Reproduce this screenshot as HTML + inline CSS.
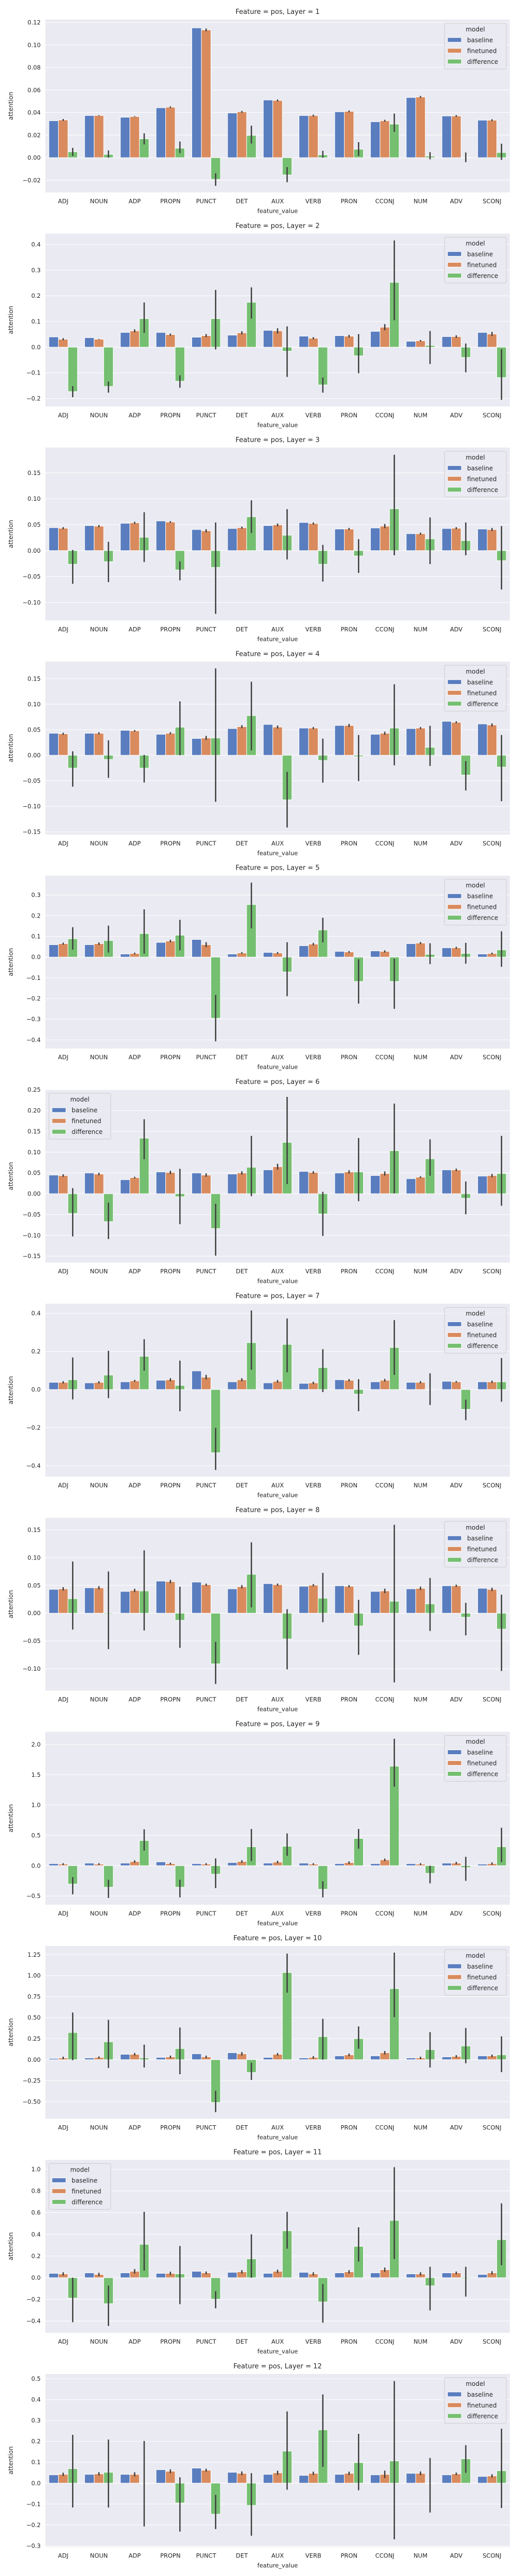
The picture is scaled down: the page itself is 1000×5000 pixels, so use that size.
<!DOCTYPE html>
<html><head><meta charset="utf-8"><title>Attention by POS per layer</title>
<style>
html,body{margin:0;padding:0;background:#fff;}
svg{display:block;font-family:"DejaVu Sans","Liberation Sans",sans-serif;}
</style></head>
<body>
<svg id="fig" xmlns="http://www.w3.org/2000/svg" width="1000" height="5000" viewBox="0 0 1000 5000"></svg>
<script>
const categories = ["ADJ","NOUN","ADP","PROPN","PUNCT","DET","AUX","VERB","PRON","CCONJ","NUM","ADV","SCONJ"];
const seriesNames = ["baseline","finetuned","difference"];
const layers = [1,2,3,4,5,6,7,8,9,10,11,12];

const baseline = [
 [0.0328,0.0374,0.0359,0.0443,0.1152,0.0397,0.0512,0.0374,0.0407,0.0319,0.0534,0.037,0.0333],
 [0.040,0.037,0.0575,0.0575,0.039,0.047,0.0656,0.043,0.045,0.0616,0.023,0.0413,0.0575],
 [0.0443,0.0483,0.0527,0.0573,0.0407,0.0427,0.0483,0.0543,0.0417,0.0437,0.0327,0.0427,0.0417],
 [0.0431,0.0431,0.0489,0.0411,0.0329,0.0523,0.0604,0.0533,0.0584,0.0411,0.0523,0.0665,0.0614],
 [0.060,0.060,0.015,0.071,0.0852,0.015,0.0226,0.055,0.0276,0.030,0.065,0.045,0.015],
 [0.0449,0.0499,0.0337,0.0524,0.0499,0.0474,0.0574,0.0536,0.0499,0.0437,0.0362,0.0574,0.0424],
 [0.0378,0.035,0.0405,0.0487,0.0978,0.0405,0.035,0.0323,0.0514,0.0405,0.0378,0.0432,0.0405],
 [0.0429,0.0457,0.0392,0.0578,0.056,0.0438,0.0532,0.0485,0.0494,0.0392,0.0438,0.0494,0.0448],
 [0.034,0.043,0.043,0.063,0.034,0.051,0.043,0.043,0.034,0.034,0.034,0.043,0.026],
 [0.0144,0.0206,0.064,0.0268,0.070,0.0825,0.0268,0.0206,0.0454,0.0454,0.0206,0.033,0.0454],
 [0.040,0.0447,0.0447,0.040,0.059,0.0495,0.040,0.0495,0.0447,0.0447,0.035,0.0447,0.030],
 [0.0397,0.0421,0.0421,0.0645,0.072,0.052,0.0421,0.0372,0.0421,0.0397,0.0471,0.0397,0.0322]
];
const finetuned = [
 [0.0335,0.0374,0.0365,0.0448,0.1134,0.0407,0.0508,0.0374,0.0411,0.0328,0.0539,0.037,0.0333],
 [0.031,0.031,0.0636,0.049,0.045,0.056,0.0636,0.035,0.043,0.0778,0.025,0.0413,0.0514],
 [0.0433,0.0473,0.0537,0.0553,0.0383,0.0443,0.0497,0.0523,0.0417,0.0473,0.0327,0.0433,0.0407],
 [0.0421,0.0431,0.0479,0.0431,0.0339,0.056,0.0553,0.0533,0.0584,0.0431,0.0533,0.0645,0.0594],
 [0.065,0.065,0.0175,0.0777,0.060,0.020,0.020,0.0627,0.025,0.0276,0.0677,0.045,0.0175],
 [0.0437,0.0474,0.0387,0.0511,0.0449,0.0499,0.0649,0.0511,0.0524,0.0486,0.0399,0.0574,0.0437],
 [0.0378,0.0378,0.046,0.0514,0.065,0.0514,0.0432,0.035,0.0487,0.0487,0.0378,0.0405,0.0405],
 [0.0438,0.0457,0.041,0.0569,0.0513,0.0476,0.0513,0.0504,0.0485,0.0401,0.0448,0.0494,0.0429],
 [0.026,0.026,0.069,0.034,0.026,0.069,0.060,0.026,0.051,0.097,0.026,0.043,0.034],
 [0.0206,0.0268,0.064,0.033,0.033,0.070,0.064,0.0268,0.0577,0.0825,0.0206,0.039,0.0454],
 [0.035,0.030,0.059,0.040,0.0447,0.0543,0.059,0.035,0.0543,0.0734,0.035,0.0447,0.0447],
 [0.0421,0.0446,0.0421,0.057,0.062,0.0471,0.0496,0.0471,0.0471,0.0421,0.0471,0.0446,0.0347]
];
const finetunedErr = [
 [0.0008,0.0003,0.0003,0.0007,0.0012,0.0008,0.0008,0.0008,0.0008,0.0008,0.0008,0.0008,0.0008],
 [0.004,0.001,0.006,0.004,0.006,0.006,0.010,0.004,0.005,0.012,0.003,0.005,0.008],
 [0.002,0.002,0.002,0.0015,0.003,0.002,0.0025,0.002,0.002,0.004,0.002,0.002,0.003],
 [0.002,0.002,0.0015,0.002,0.004,0.003,0.003,0.002,0.003,0.003,0.002,0.002,0.003],
 [0.005,0.006,0.004,0.006,0.012,0.004,0.004,0.006,0.004,0.005,0.005,0.005,0.004],
 [0.003,0.003,0.002,0.004,0.004,0.004,0.007,0.003,0.004,0.005,0.002,0.003,0.004],
 [0.006,0.006,0.005,0.008,0.012,0.008,0.007,0.006,0.006,0.007,0.006,0.004,0.006],
 [0.003,0.003,0.003,0.003,0.002,0.003,0.002,0.002,0.002,0.004,0.003,0.002,0.003],
 [0.015,0.015,0.02,0.015,0.015,0.02,0.02,0.015,0.02,0.02,0.015,0.02,0.02],
 [0.015,0.012,0.015,0.015,0.015,0.02,0.015,0.015,0.015,0.02,0.015,0.015,0.015],
 [0.015,0.015,0.02,0.015,0.012,0.015,0.015,0.015,0.015,0.02,0.015,0.012,0.015],
 [0.008,0.008,0.01,0.009,0.007,0.009,0.01,0.008,0.008,0.018,0.009,0.006,0.008]
];
const difference = [
 [0.0052,0.0029,0.0167,0.0084,-0.0193,0.0198,-0.0153,0.0025,0.0075,0.0298,0.0014,0.0,0.0046],
 [-0.173,-0.153,0.111,-0.1327,0.111,0.175,-0.0156,-0.147,-0.0338,0.2525,0.0068,-0.04,-0.1184],
 [-0.0263,-0.0213,0.0257,-0.0373,-0.0323,0.0653,0.0297,-0.0263,-0.0103,0.0807,0.0227,0.0193,-0.0193],
 [-0.0251,-0.0081,-0.0251,0.055,0.0339,0.0777,-0.0872,-0.0102,-0.0027,0.0533,0.0156,-0.0387,-0.0231],
 [0.0886,0.080,0.1136,0.106,-0.2957,0.254,-0.0718,0.131,-0.1178,-0.1178,0.0134,0.0175,0.035],
 [-0.0474,-0.067,0.1335,-0.0071,-0.0836,0.0636,0.1235,-0.0486,0.0524,0.1035,0.084,-0.0108,0.0486],
 [0.0514,0.076,0.1743,0.0214,-0.3317,0.2461,0.237,0.1155,-0.0241,0.2207,-0.003,-0.104,0.0405],
 [0.0261,-0.0016,0.0401,-0.0127,-0.0911,0.070,-0.0463,0.027,-0.023,0.0215,0.0168,-0.0072,-0.0286],
 [-0.303,-0.355,0.415,-0.355,-0.140,0.312,0.320,-0.389,0.449,1.642,-0.126,-0.031,0.312],
 [0.3236,0.2123,0.0206,0.132,-0.509,-0.1525,1.037,0.274,0.2494,0.845,0.1196,0.163,0.0577],
 [-0.188,-0.2395,0.308,0.035,-0.198,0.174,0.4326,-0.2235,0.289,0.528,-0.075,-0.008,0.351],
 [0.0694,0.052,-0.0025,-0.095,-0.1488,-0.1066,0.1537,0.2554,0.0983,0.1066,-0.0025,0.1165,0.0595]
];
const differenceHi = [
 [0.0087,0.0064,0.0216,0.0143,-0.0138,0.0284,-0.0084,0.0061,0.0138,0.0391,0.0049,0.0046,0.0124],
 [-0.152,-0.134,0.174,-0.1096,0.223,0.233,0.081,-0.118,0.051,0.416,0.063,0.0142,-0.008],
 [0.0013,0.017,0.074,-0.0207,0.0543,0.097,0.080,0.011,0.022,0.185,0.064,0.0543,0.0473],
 [0.0078,0.0292,0.0007,0.1055,0.170,0.144,-0.0326,0.0326,0.0397,0.139,0.0577,-0.0115,0.0397],
 [0.1445,0.152,0.2306,0.180,-0.183,0.360,0.0718,0.190,-0.011,-0.008,0.0668,0.069,0.1245],
 [0.0133,-0.0216,0.179,0.0599,-0.0241,0.139,0.2328,0.0046,0.134,0.2166,0.1306,0.0295,0.139],
 [0.168,0.203,0.264,0.1515,-0.2014,0.4146,0.3727,0.2116,0.054,0.3645,0.085,-0.0532,0.165],
 [0.093,0.075,0.1132,0.0476,-0.0516,0.1275,0.0072,0.0725,0.024,0.159,0.0634,0.0187,0.0333],
 [-0.189,-0.232,0.60,-0.232,0.12,0.606,0.532,-0.257,0.606,2.094,0.0,0.146,0.626],
 [0.5607,0.474,0.179,0.383,-0.371,-0.037,1.2616,0.4865,0.396,1.274,0.328,0.377,0.278],
 [0.0,-0.073,0.607,0.292,-0.1245,0.40,0.607,-0.059,0.4646,1.0185,0.1006,0.1006,0.685],
 [0.2314,0.209,0.2017,0.028,-0.0562,0.048,0.3438,0.4248,0.2364,0.489,0.1207,0.1818,0.261]
];
const differenceLo = [
 [0.0015,0.0,0.0118,0.004,-0.025,0.0126,-0.0218,0.0,0.0015,0.0229,-0.0015,-0.004,-0.002],
 [-0.195,-0.177,0.0555,-0.158,-0.0088,0.111,-0.116,-0.177,-0.1015,0.105,-0.0656,-0.098,-0.205],
 [-0.064,-0.0607,-0.022,-0.0573,-0.122,0.034,-0.017,-0.0597,-0.043,-0.009,-0.026,-0.009,-0.075],
 [-0.0614,-0.0441,-0.0533,0.0,-0.091,0.0095,-0.1415,-0.0536,-0.0506,-0.0197,-0.021,-0.0689,-0.090],
 [0.036,0.0217,0.0167,0.033,-0.407,0.1387,-0.189,0.071,-0.2247,-0.250,-0.034,-0.032,-0.0468],
 [-0.1027,-0.109,0.083,-0.0732,-0.1489,-0.0058,0.0233,-0.1015,-0.0179,0.0008,0.0432,-0.0495,-0.029],
 [-0.052,-0.045,0.0987,-0.114,-0.4218,0.1042,0.0906,-0.0132,-0.114,0.077,-0.0815,-0.161,-0.064],
 [-0.0295,-0.0647,-0.0311,-0.0622,-0.1272,0.0106,-0.101,-0.0162,-0.075,-0.1244,-0.032,-0.0398,-0.1039],
 [-0.472,-0.532,0.249,-0.523,-0.369,0.077,0.163,-0.523,0.28,1.304,-0.292,-0.249,0.06],
 [-0.006,-0.099,-0.093,-0.173,-0.625,-0.241,0.798,0.0,0.13,0.507,-0.093,-0.043,-0.148],
 [-0.41,-0.445,0.065,-0.244,-0.2826,0.0,0.268,-0.415,0.1485,0.172,-0.3017,-0.174,0.115],
 [-0.1165,-0.1165,-0.2074,-0.232,-0.2198,-0.252,-0.0314,0.0777,-0.0339,-0.269,-0.1405,0.0496,-0.119]
];
const yLimits = [
 [-0.0308,0.1226],[-0.2308,0.4426],[-0.1347,0.1987],[-0.1551,0.1833],
 [-0.442,0.3935],[-0.1655,0.25],[-0.457,0.45],[-0.1393,0.1716],
 [-0.6436,2.208],[-0.703,1.354],[-0.5077,1.0856],[-0.305,0.523]
];
const yTicks = [
 [-0.02,0,0.02,0.04,0.06,0.08,0.10,0.12],
 [-0.2,-0.1,0,0.1,0.2,0.3,0.4],
 [-0.10,-0.05,0,0.05,0.10,0.15],
 [-0.15,-0.10,-0.05,0,0.05,0.10,0.15],
 [-0.4,-0.3,-0.2,-0.1,0,0.1,0.2,0.3],
 [-0.15,-0.10,-0.05,0,0.05,0.10,0.15,0.20,0.25],
 [-0.4,-0.2,0,0.2,0.4],
 [-0.10,-0.05,0,0.05,0.10,0.15],
 [-0.5,0,0.5,1.0,1.5,2.0],
 [-0.50,-0.25,0,0.25,0.50,0.75,1.00,1.25],
 [-0.4,-0.2,0,0.2,0.4,0.6,0.8,1.0],
 [-0.3,-0.2,-0.1,0,0.1,0.2,0.3,0.4,0.5]
];
const tickDecimals = [2,1,2,2,1,2,1,2,1,2,1,1];
const legendLeft = [false,false,false,false,false,true,false,false,false,false,true,false];

const NS = "http://www.w3.org/2000/svg";
const svg = document.getElementById("fig");
const colors = ["#597dbf","#d98b5e","#75bf71"];
const AX_L = 88, AX_R = 990, AX_H = 335.5, FIRST_TOP = 37.9, PANEL_STEP = 415.45;

function mk(tag, attrs, parent, text) {
  const e = document.createElementNS(NS, tag);
  for (const k in attrs) e.setAttribute(k, attrs[k]);
  if (text !== undefined) e.textContent = text;
  parent.appendChild(e);
  return e;
}
function fmt(v, d) {
  let s = Math.abs(v) < 1e-12 ? (0).toFixed(d) : v.toFixed(d);
  return s.replace("-", "\u2212");
}

layers.forEach((layer, k) => {
  const top = FIRST_TOP + k * PANEL_STEP;
  const bottom = top + AX_H;
  const [y0, y1] = yLimits[k];
  const yScale = v => bottom - (v - y0) / (y1 - y0) * AX_H;
  const bandW = (AX_R - AX_L) / categories.length;
  const xBand = i => AX_L + i * bandW;
  const barW = bandW * 0.8 / 3;

  const g = mk("g", {}, svg);
  
  

  const title = mk("text", {x: (AX_L + AX_R) / 2, y: top - 11, "text-anchor": "middle", "font-size": "13", fill: "#262626"}, g, "Feature = pos, Layer = " + layer);
  
  

  const bg = mk("rect", {x: AX_L, y: top, width: AX_R - AX_L, height: AX_H, fill: "#eaeaf2"}, g);
  
  

  yTicks[k].forEach(t => {
    const y = yScale(t);
    const gl = mk("line", {x1: AX_L, x2: AX_R, y1: y, y2: y, stroke: "#ffffff", "stroke-width": "1"}, g);
    
    
    const tl = mk("text", {x: AX_L - 9, y: y + 4, "text-anchor": "end", "font-size": "11.5", fill: "#262626"}, g, fmt(t, tickDecimals[k]));
    
    
  });

  const series = [baseline[k], finetuned[k], difference[k]];
  categories.forEach((c, i) => {
    series.forEach((vals, s) => {
      const v = vals[i];
      const x = xBand(i) + bandW * 0.1 + s * barW;
      const yv = yScale(v), yz = yScale(0);
      const r = mk("rect", {x: x, y: Math.min(yv, yz), width: barW, height: Math.max(Math.abs(yz - yv), 0.5), fill: colors[s], stroke: "#ffffff", "stroke-width": "1"}, g);
      
      
    });
    const cxF = xBand(i) + bandW * 0.1 + 1.5 * barW;
    const fe = finetunedErr[k][i];
    const e1 = mk("line", {x1: cxF, x2: cxF, y1: yScale(finetuned[k][i] + fe), y2: yScale(finetuned[k][i] - fe), stroke: "#3d3d3d", "stroke-width": "2.5"}, g);
    
    
    const cxD = xBand(i) + bandW * 0.1 + 2.5 * barW;
    const e2 = mk("line", {x1: cxD, x2: cxD, y1: yScale(differenceHi[k][i]), y2: yScale(differenceLo[k][i]), stroke: "#3d3d3d", "stroke-width": "2.5"}, g);
    
    
    const xl = mk("text", {x: xBand(i) + bandW / 2, y: bottom + 21, "text-anchor": "middle", "font-size": "11.5", fill: "#262626"}, g, c);
    
    
  });

  const xt = mk("text", {x: (AX_L + AX_R) / 2, y: bottom + 40, "text-anchor": "middle", "font-size": "11.5", fill: "#262626"}, g, "feature_value");
  
  
  const yt = mk("text", {x: 0, y: 0, "text-anchor": "middle", "font-size": "12", fill: "#262626", transform: "translate(25," + (top + AX_H / 2) + ") rotate(-90)"}, g, "attention");
  
  

  const lx = legendLeft[k] ? 95 : 863;
  const ly = top + 7;
  const lg = mk("g", {}, g);
  
  
  mk("rect", {x: lx, y: ly, width: 120, height: 89, rx: 3, fill: "#eaeaf2", "fill-opacity": "0.85", stroke: "#cccccc", "stroke-width": "1"}, lg);
  const lt = mk("text", {x: lx + 60, y: ly + 16, "text-anchor": "middle", "font-size": "12", fill: "#262626"}, lg, "model");
  
  
  seriesNames.forEach((n, s) => {
    const ey = ly + 33 + s * 21;
    const sw = mk("rect", {x: lx + 6, y: ey - 5, width: 27, height: 9, fill: colors[s], stroke: "#ffffff", "stroke-width": "1"}, lg);
    
    
    const et = mk("text", {x: lx + 44, y: ey + 4, "font-size": "12", fill: "#262626"}, lg, n);
    
    
  });
});
</script>
</body></html>
